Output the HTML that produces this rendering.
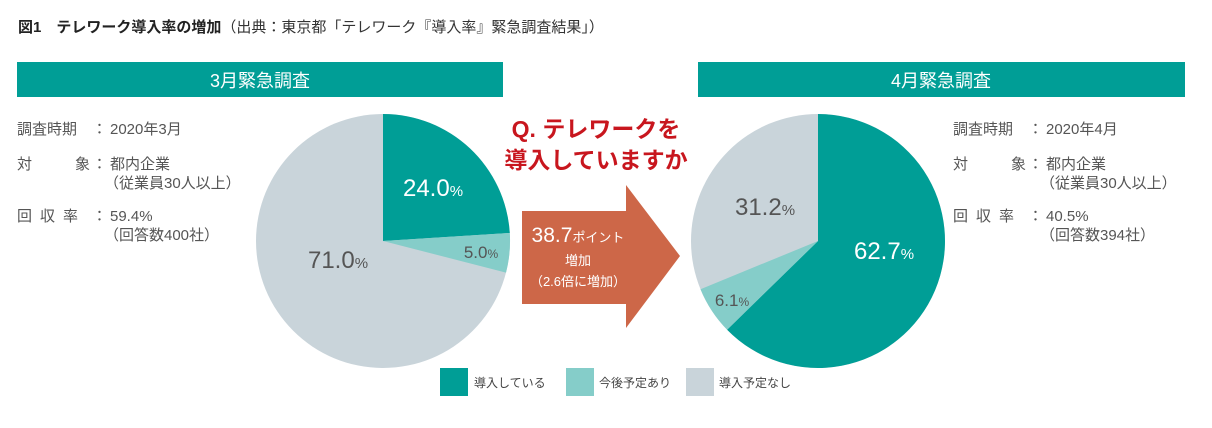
<!DOCTYPE html>
<html><head><meta charset="utf-8"><style>
body{margin:0;background:#fff;}
svg text{font-family:"Liberation Sans","Noto Sans CJK JP",sans-serif;}
</style></head><body>
<svg width="1212" height="423" viewBox="0 0 1212 423" xmlns="http://www.w3.org/2000/svg">
<rect width="1212" height="423" fill="#fff"/>
<text x="18" y="32" font-size="15" fill="#222"><tspan font-weight="bold">図1　テレワーク導入率の増加</tspan><tspan fill="#333">（出典：東京都「テレワーク『導入率』緊急調査結果」）</tspan></text>
<rect x="17" y="62" width="486" height="35" fill="#009e96"/>
<text x="260" y="87" font-size="18" fill="#fff" text-anchor="middle">3月緊急調査</text>
<rect x="698" y="62" width="487" height="35" fill="#009e96"/>
<text x="941" y="87" font-size="18" fill="#fff" text-anchor="middle">4月緊急調査</text>
<g font-size="15" fill="#555">
<text x="17" y="134">調査時期</text><text x="92" y="134">：</text><text x="110" y="134">2020年3月</text>
<text x="17" y="169">対</text><text x="75" y="169">象</text><text x="92" y="169">：</text><text x="110" y="169">都内企業</text>
<text x="104" y="188">（従業員30人以上）</text>
<text x="17" y="221">回</text><text x="40" y="221">収</text><text x="63" y="221">率</text><text x="92" y="221">：</text><text x="110" y="221">59.4%</text>
<text x="104" y="240">（回答数400社）</text>
<text x="953" y="134">調査時期</text><text x="1028" y="134">：</text><text x="1046" y="134">2020年4月</text>
<text x="953" y="169">対</text><text x="1011" y="169">象</text><text x="1028" y="169">：</text><text x="1046" y="169">都内企業</text>
<text x="1040" y="188">（従業員30人以上）</text>
<text x="953" y="221">回</text><text x="976" y="221">収</text><text x="999" y="221">率</text><text x="1028" y="221">：</text><text x="1046" y="221">40.5%</text>
<text x="1040" y="240">（回答数394社）</text>
</g>
<circle cx="383" cy="241" r="127" fill="#c9d4da"/>
<path d="M383 241 L383 114 A127 127 0 0 1 509.8 233 Z" fill="#009e96"/>
<path d="M383 241 L509.8 233 A127 127 0 0 1 506 272.6 Z" fill="#85cdc9"/>
<text x="433" y="196" font-size="24" fill="#fff" text-anchor="middle">24.0<tspan font-size="15">%</tspan></text>
<text x="481" y="258" font-size="17" fill="#555" text-anchor="middle">5.0<tspan font-size="12">%</tspan></text>
<text x="338" y="268" font-size="24" fill="#555" text-anchor="middle">71.0<tspan font-size="15">%</tspan></text>
<circle cx="818" cy="241" r="127" fill="#c9d4da"/>
<path d="M818 241 L818 114 A127 127 0 1 1 727.1 329.7 Z" fill="#009e96"/>
<path d="M818 241 L727.1 329.7 A127 127 0 0 1 700.5 289.2 Z" fill="#85cdc9"/>
<text x="884" y="259" font-size="24" fill="#fff" text-anchor="middle">62.7<tspan font-size="15">%</tspan></text>
<text x="732" y="306" font-size="17" fill="#555" text-anchor="middle">6.1<tspan font-size="12">%</tspan></text>
<text x="765" y="215" font-size="24" fill="#555" text-anchor="middle">31.2<tspan font-size="15">%</tspan></text>
<text x="596" y="137" font-size="23" font-weight="bold" fill="#c8161e" text-anchor="middle">Q. テレワークを</text>
<text x="596" y="168" font-size="23" font-weight="bold" fill="#c8161e" text-anchor="middle">導入していますか</text>
<path d="M522 211 L626 211 L626 185 L680 256 L626 328 L626 304 L522 304 Z" fill="#cd6748"/>
<text x="578" y="242" font-size="21" fill="#fff" text-anchor="middle">38.7<tspan font-size="13">ポイント</tspan></text>
<text x="578" y="265" font-size="13" fill="#fff" text-anchor="middle">増加</text>
<text x="578" y="286" font-size="13" fill="#fff" text-anchor="middle">（2.6倍に増加）</text>
<rect x="440" y="368" width="28" height="28" fill="#009e96"/>
<text x="474" y="387" font-size="12" fill="#444">導入している</text>
<rect x="566" y="368" width="28" height="28" fill="#85cdc9"/>
<text x="599" y="387" font-size="12" fill="#444">今後予定あり</text>
<rect x="686" y="368" width="28" height="28" fill="#c9d4da"/>
<text x="719" y="387" font-size="12" fill="#444">導入予定なし</text>
</svg>
</body></html>
